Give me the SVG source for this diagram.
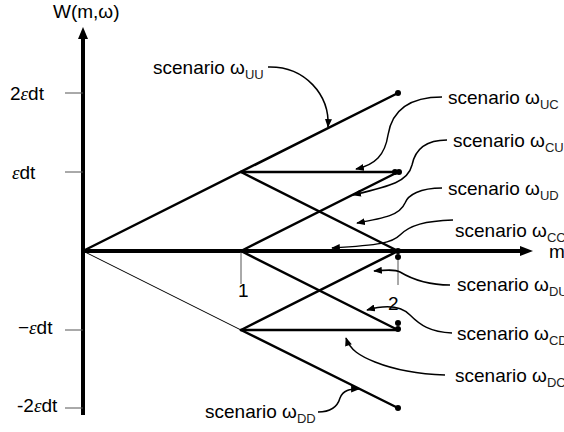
<svg xmlns="http://www.w3.org/2000/svg" width="564" height="432" viewBox="0 0 564 432">
<defs>
<marker id="ah" viewBox="0 0 10 8" refX="9" refY="4" markerWidth="9" markerHeight="7" markerUnits="userSpaceOnUse" orient="auto">
<path d="M0,0 L10,4 L0,8 z" fill="#000"/>
</marker>
</defs>
<style>
text{font-family:"Liberation Sans",Arial,sans-serif;font-size:19px;fill:#000}
.sub{font-size:13px;fill:#222}
.eps{font-family:"Liberation Serif","Times New Roman",serif;font-style:italic}
.axis{stroke:#000;stroke-width:4;fill:none}
.tick{stroke:#555;stroke-width:1;fill:none}
.path{stroke:#000;stroke-width:2.5;fill:none;stroke-linecap:round}
.thin{stroke:#000;stroke-width:1;fill:none}
.conn{stroke:#000;stroke-width:1.5;fill:none;marker-end:url(#ah)}
.dot{fill:#000}
</style>
<rect width="564" height="432" fill="#fff"/>
<g id="axes">
<line class="axis" x1="83" y1="36" x2="83" y2="415"/>
<path d="M83,27 L78,39 L88,39 z" fill="#000"/>
<line class="axis" x1="81" y1="251" x2="522" y2="251"/>
<path d="M533,251 L520,246 L520,256 z" fill="#000"/>
<line class="tick" x1="65" y1="93" x2="83" y2="93"/>
<line class="tick" x1="65" y1="172" x2="83" y2="172"/>
<line class="tick" x1="65" y1="330" x2="83" y2="330"/>
<line class="tick" x1="65" y1="408" x2="83" y2="408"/>
<line class="tick" x1="241" y1="251" x2="241" y2="284"/>
<line class="tick" x1="398" y1="251" x2="398" y2="285"/>
<text x="53" y="18">W(m,ω)</text>
<text x="549" y="258">m</text>
<text x="10" y="100">2<tspan class="eps">ε</tspan>dt</text>
<text x="12" y="179"><tspan class="eps">ε</tspan>dt</text>
<text x="18" y="334">−<tspan class="eps">ε</tspan>dt</text>
<text x="17" y="412">-2<tspan class="eps">ε</tspan>dt</text>
<text x="238" y="297">1</text>
<text x="388" y="310">2</text>
</g>
<g id="tree">
<line class="path" x1="83" y1="251" x2="398" y2="93"/>
<line class="thin" x1="83" y1="251" x2="241" y2="330"/>
<line class="path" x1="241" y1="172" x2="398" y2="172"/>
<line class="path" x1="241" y1="172" x2="398" y2="251"/>
<line class="path" x1="241" y1="251" x2="398" y2="172"/>
<line class="path" x1="241" y1="251" x2="398" y2="330"/>
<line class="path" x1="241" y1="330" x2="398" y2="251"/>
<line class="path" x1="241" y1="330" x2="398" y2="330"/>
<line class="path" x1="241" y1="330" x2="398" y2="408"/>
<circle class="dot" cx="398" cy="93" r="3"/>
<circle class="dot" cx="395" cy="172" r="3"/>
<circle class="dot" cx="399" cy="172" r="3"/>
<circle class="dot" cx="398" cy="251" r="3"/>
<circle class="dot" cx="398" cy="257" r="3"/>
<circle class="dot" cx="398" cy="323" r="3"/>
<circle class="dot" cx="398" cy="329" r="3"/>
<circle class="dot" cx="398" cy="408" r="3"/>
</g>
<g id="connectors">
<path class="conn" d="M268,67 C305,66 330,95 328,127"/>
<path class="conn" d="M442,97 C410,97 392,110 388,135 C385,155 375,165 356,169"/>
<path class="conn" d="M447,140 C425,140 415,150 412,165 C408,182 390,186 353,195"/>
<path class="conn" d="M442,188 C420,188 408,195 405,203 C400,215 385,218 357,223"/>
<path class="conn" d="M453,220 C425,221 410,225 400,235 C392,243 380,245 332,248"/>
<path class="conn" d="M450,285 C425,285 410,278 400,272 C395,269 385,270 374,271"/>
<path class="conn" d="M452,333 C430,332 420,325 410,315 C400,305 385,305 367,310"/>
<path class="conn" d="M445,375 C415,374 395,370 375,362 C360,356 350,350 346,338"/>
<path class="conn" d="M318,412 C332,412 338,405 340,398 C343,390 350,389 359,389"/>
</g>
<g id="label-UU"><text x="153" y="74">scenario ω<tspan class="sub" dy="5">UU</tspan></text></g>
<g id="label-UC"><text x="448" y="104">scenario ω<tspan class="sub" dy="5">UC</tspan></text></g>
<g id="label-CU"><text x="453" y="147">scenario ω<tspan class="sub" dy="5">CU</tspan></text></g>
<g id="label-UD"><text x="448" y="195">scenario ω<tspan class="sub" dy="5">UD</tspan></text></g>
<g id="label-CC"><text x="455" y="237">scenario ω<tspan class="sub" dy="5">CC</tspan></text></g>
<g id="label-DU"><text x="457" y="291">scenario ω<tspan class="sub" dy="5">DU</tspan></text></g>
<g id="label-CD"><text x="457" y="340">scenario ω<tspan class="sub" dy="5">CD</tspan></text></g>
<g id="label-DC"><text x="455" y="382">scenario ω<tspan class="sub" dy="5">DC</tspan></text></g>
<g id="label-DD"><text x="205" y="418">scenario ω<tspan class="sub" dy="5">DD</tspan></text></g>
</svg>
